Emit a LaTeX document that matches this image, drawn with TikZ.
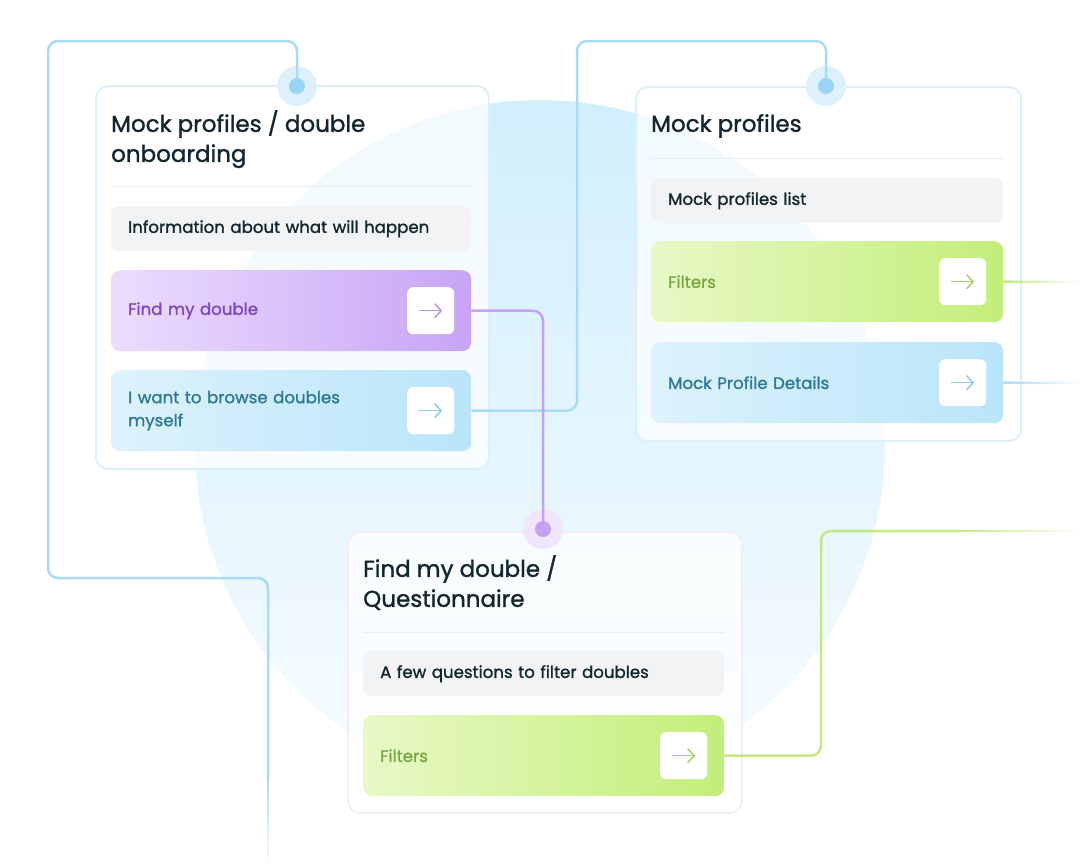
\documentclass[tikz,border=0pt]{standalone}
\usepackage{fontspec}
\setmainfont{Poppins}[FakeBold=1.3]
\usetikzlibrary{positioning,fadings,arrows.meta}

\definecolor{ink}{HTML}{13262E}
\definecolor{greybox}{HTML}{F2F3F4}
\definecolor{cardrim}{HTML}{DDEFF9}
\definecolor{lilacrim}{HTML}{F3ECFA}
\definecolor{circtop}{HTML}{D1EFFD}
\definecolor{circbot}{HTML}{F7FCFF}
\definecolor{bluewire}{HTML}{A8DBF4}
\definecolor{bluedot}{HTML}{9AD4F3}
\definecolor{bluehalo}{HTML}{DDF0FB}
\definecolor{purplewire}{HTML}{C5A0F4}
\definecolor{purplehalo}{HTML}{F0E6FC}
\definecolor{greenwire}{HTML}{C2EA80}
\definecolor{purpleL}{HTML}{ECDDFE}
\definecolor{purpleR}{HTML}{C7A4F6}
\definecolor{purpleT}{HTML}{7E45C4}
\definecolor{blueL}{HTML}{DDF2FC}
\definecolor{blueR}{HTML}{B9E5FA}
\definecolor{blueT}{HTML}{2E7898}
\definecolor{greenL}{HTML}{E8F9C6}
\definecolor{greenR}{HTML}{C3EE79}
\definecolor{greenT}{HTML}{7AA644}
\definecolor{bluearrow}{HTML}{8FCDEC}
\definecolor{purplearrow}{HTML}{B995EE}
\definecolor{greenarrow}{HTML}{A8D36A}
\definecolor{rule}{HTML}{E8EEF1}

\tikzset{
  card/.style={draw=#1, line width=2pt, rounded corners=12pt, fill=white, fill opacity=.72,
    draw opacity=1, anchor=north west, inner sep=0pt},
  cardtitle/.style={anchor=north west, align=left, text=ink, inner sep=0pt,
    font=\fontsize{23}{30}\selectfont},
  infobox/.style={anchor=north west, fill=greybox, rounded corners=8pt, minimum height=45pt,
    inner xsep=17pt, align=left, text=ink, font=\fontsize{16.6}{21}\selectfont},
  choice/.style={anchor=north west, rounded corners=9pt, minimum height=81pt,
    inner xsep=17pt, align=left, font=\fontsize{16.6}{23}\selectfont},
  purplechoice/.style={choice, left color=purpleL, right color=purpleR, text=purpleT},
  bluechoice/.style={choice, left color=blueL, right color=blueR, text=blueT},
  greenchoice/.style={choice, left color=greenL, right color=greenR, text=greenT},
  gobox/.style={fill=white, rounded corners=6pt, minimum size=47pt, inner sep=0pt},
  halo/.style={circle, fill=#1, minimum size=40pt, inner sep=0pt},
  dot/.style={circle, fill=#1, minimum size=16pt, inner sep=0pt},
  wire/.style={draw=#1, line width=2.5pt, rounded corners=10pt},
  divider/.style={draw=rule, line width=1pt}
}

\begin{document}
\begin{tikzpicture}[x=1pt,y=-1pt]
\useasboundingbox (0,0) rectangle (1080,863);

% backdrop
\shade[top color=circtop, bottom color=circbot] (540,445) circle (345);

% cards
\node[card=cardrim, minimum width=393pt, minimum height=383pt] (onb) at (95,85) {};
\node[card=cardrim, minimum width=385pt, minimum height=354pt] (mock) at (635,86) {};
\node[card=lilacrim, minimum width=394pt, minimum height=281pt] (quest) at (347,531) {};

% onboarding card
\node[cardtitle] (onbtitle) at (111,110) {Mock profiles / double\\onboarding};
\draw[divider] (111,186) -- (471,186);
\node[infobox, text width=326pt] (onbinfo) at (111,206) {Information about what will happen};
\node[purplechoice, text width=326pt] (find) at (111,270) {Find my double};
\node[bluechoice, text width=326pt] (browse) at (111,370) {I want to browse doubles\\myself};

% mock profiles card
\node[cardtitle] (mocktitle) at (651,114) {Mock profiles};
\draw[divider] (651,158) -- (1003,158);
\node[infobox, text width=318pt] (mockinfo) at (651,178) {Mock profiles list};
\node[greenchoice, text width=318pt] (filt) at (651,241) {Filters};
\node[bluechoice, text width=318pt] (details) at (651,342) {Mock Profile Details};

% questionnaire card
\node[cardtitle] (questtitle) at (363,555) {Find my double /\\Questionnaire};
\draw[divider] (363,632) -- (724,632);
\node[infobox, text width=327pt] (questinfo) at (363,651) {A few questions to filter doubles};
\node[greenchoice, text width=327pt] (qfilt) at (363,715) {Filters};

% arrow buttons
\foreach \b/\c in {find/purplearrow, browse/bluearrow, filt/greenarrow, details/bluearrow, qfilt/greenarrow}{
  \node[gobox, left=17pt of \b.east, anchor=east] (\b go) {};
  \draw[draw=\c, line width=1.5pt, -{Straight Barb[length=6.5pt,width=14pt]}]
    ([xshift=-11.5pt]\b go.center) -- ([xshift=11.5pt]\b go.center);
}

% connectors
\coordinate (lt) at (48,41);
\coordinate (lb) at (268,578);
\coordinate (lmid) at (268,780);
\coordinate (lend) at (268,863);
\coordinate (rt) at (577,41);
\coordinate (gt) at (821,531);
\coordinate (gmid) at (960,531);
\coordinate (gend) at (1080,531);
\coordinate (fend) at (1080,282);
\coordinate (dend) at (1080,383);

\node[halo=bluehalo] (odothalo) at (297,86) {};
\node[halo=bluehalo] (mdothalo) at (826,86) {};
\node[halo=purplehalo] (qdothalo) at (543,529) {};

\draw[wire=bluewire] (odothalo.center) |- (lt) |- (lb) -- (lmid);
\draw[wire=bluewire, path fading=south] (lmid) -- (lend);
\draw[wire=bluewire] (browse.east) -| (rt) -| (mdothalo.center);
\draw[wire=purplewire] (find.east) -| (qdothalo.center);
\draw[wire=greenwire] (qfilt.east) -| (gt) -- (gmid);
\draw[wire=greenwire, path fading=east] (gmid) -- (gend);
\draw[wire=greenwire, path fading=east] (filt.east) -- (fend);
\draw[wire=bluewire, path fading=east] (details.east) -- (dend);

\node[dot=bluedot] (odot) at (odothalo) {};
\node[dot=bluedot] (mdot) at (mdothalo) {};
\node[dot=purplewire] (qdot) at (qdothalo) {};
\end{tikzpicture}
\end{document}
